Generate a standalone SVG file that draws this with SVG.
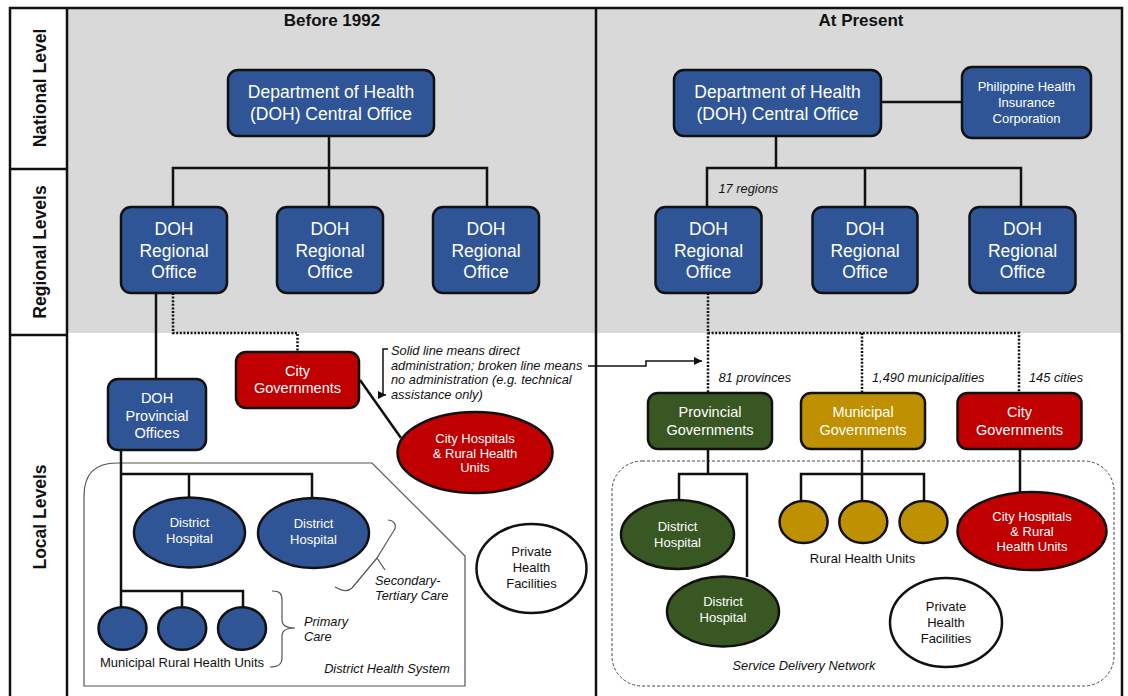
<svg xmlns="http://www.w3.org/2000/svg" width="1128" height="696" viewBox="0 0 1128 696">
<style>
text{font-family:"Liberation Sans",Arial,sans-serif;}
.hdr{font-weight:bold;font-size:17px;fill:#111;text-anchor:middle;}
.lvl{font-weight:bold;font-size:17.5px;fill:#111;text-anchor:middle;}
.w{fill:#fff;text-anchor:middle;}
.big{font-size:17.5px;}
.mid{font-size:14.5px;}
.sm{font-size:13px;}
.k{fill:#111;text-anchor:middle;}
.it{font-style:italic;font-size:12.8px;fill:#111;}
.box{stroke:#111;stroke-width:2.5;}
.blue{fill:#2f5597;}
.red{fill:#c00000;}
.green{fill:#385723;}
.gold{fill:#bf9000;}
.white{fill:#fff;}
.ln{fill:none;stroke:#111;stroke-width:2.5;}
.dot{fill:none;stroke:#111;stroke-width:2.5;stroke-dasharray:2 1.6;}
.thin{fill:none;stroke:#555;stroke-width:1.2;}
</style>
<defs>
<marker id="ah" markerUnits="userSpaceOnUse" markerWidth="10" markerHeight="10" refX="8" refY="4" orient="auto">
<path d="M0,0 L8,4 L0,8 z" fill="#111"/>
</marker>
</defs>
<rect x="0" y="0" width="1128" height="696" fill="#fff"/>
<g id="background">
<rect x="67" y="8" width="1055" height="325" fill="#d9d9d9"/>
<path class="ln" d="M10,700 L10,8 L1122,8 L1122,700 M67,8 L67,700 M596,8 L596,700 M10,169 L67,169 M10,335 L67,335"/>
</g>
<g id="labels">
<text class="hdr" x="332" y="26">Before 1992</text>
<text class="hdr" x="861" y="26">At Present</text>
<text class="lvl" transform="translate(45.5,88) rotate(-90)">National Level</text>
<text class="lvl" transform="translate(45.5,252) rotate(-90)">Regional Levels</text>
<text class="lvl" transform="translate(45.5,517) rotate(-90)">Local Levels</text>
</g>
<g id="regions">
<path class="thin" d="M84,686 L84,496 Q84,463 117,463 L372,463 L465,556 L465,686 Z"/>
<text class="it" x="450" y="673" text-anchor="end">District Health System</text>
<rect x="612" y="461" width="502" height="225" rx="30" fill="none" stroke="#444" stroke-width="1" stroke-dasharray="3 2"/>
<text class="it" x="804" y="670" text-anchor="middle">Service Delivery Network</text>
</g>
<g id="connectors">
<path class="ln" d="M329,136 L329,207 M173,207 L173,168 L487,168 L487,207"/>
<path class="ln" d="M156,293 L156,379"/>
<path class="dot" d="M173,293 L173,333 L297.5,333 L297.5,352"/>
<path class="ln" d="M121,450 L121,607 M121,474 L312,474 L312,498 M189,474 L189,498 M121,591 L243,591 L243,607 M182,591 L182,607"/>
<path class="ln" d="M360,380 L401,438"/>
<path class="ln" d="M776,136 L776,168 M707,207 L707,168 L1021,168 L1021,207 M865,168 L865,207"/>
<path class="ln" d="M881,102 L962,102"/>
<path class="dot" d="M708,293 L708,393 M708,333 L1019,333 L1019,393 M862,333 L862,393"/>
<path class="ln" d="M708,449 L708,474 M679,500 L679,474 L747,474 L747,577"/>
<path class="ln" d="M862,449 L862,501 M801,501 L801,474 L924,474 L924,501"/>
<path class="ln" d="M1020,449 L1020,492"/>
<path fill="none" stroke="#111" stroke-width="1.5" d="M388,349 L383,349 L383,395 L386,395" marker-end="url(#ah)"/>
<path fill="none" stroke="#111" stroke-width="1.5" d="M588,366 L646,366 L646,361 L702,361" marker-end="url(#ah)"/>
<path class="thin" d="M388,520 C396,521 397,527 393,532 L377,558 L385,570 M377,558 L352,588 C348,592 342,591 335,587"/>
<path class="thin" d="M272,591 C280,591 282,594 282,600 L282,620 C282,625 286,628 295,628 C286,628 282,631 282,636 L282,658 C282,664 279,667 270,667"/>
</g>
<g id="n-doh-before">
<rect class="box blue" x="228" y="70" width="206" height="66" rx="10"/>
<text class="w big" x="331" y="98">Department of Health</text>
<text class="w big" x="331" y="120">(DOH) Central Office</text>
</g>
<g id="n-reg-b1">
<rect class="box blue" x="121" y="207" width="106" height="86" rx="10"/>
<text class="w big" x="174" y="235">DOH</text><text class="w big" x="174" y="257">Regional</text><text class="w big" x="174" y="278">Office</text>
</g>
<g id="n-reg-b2">
<rect class="box blue" x="277" y="207" width="106" height="86" rx="10"/>
<text class="w big" x="330" y="235">DOH</text><text class="w big" x="330" y="257">Regional</text><text class="w big" x="330" y="278">Office</text>
</g>
<g id="n-reg-b3">
<rect class="box blue" x="433" y="207" width="106" height="86" rx="10"/>
<text class="w big" x="486" y="235">DOH</text><text class="w big" x="486" y="257">Regional</text><text class="w big" x="486" y="278">Office</text>
</g>
<g id="n-prov-office">
<rect class="box blue" x="108" y="379" width="98" height="71" rx="10"/>
<text class="w mid" x="157" y="403">DOH</text><text class="w mid" x="157" y="421">Provincial</text><text class="w mid" x="157" y="438">Offices</text>
</g>
<g id="n-city-gov-b">
<rect class="box red" x="236" y="352" width="123" height="56" rx="10"/>
<text class="w mid" x="297.5" y="376">City</text><text class="w mid" x="297.5" y="393">Governments</text>
</g>
<g id="n-city-hosp-b">
<ellipse class="box red" cx="475" cy="452.5" rx="77.5" ry="40.5"/>
<text class="w sm" x="475" y="443">City Hospitals</text><text class="w sm" x="475" y="457.5">&amp; Rural Health</text><text class="w sm" x="475" y="472">Units</text>
</g>
<g id="n-dh-b1">
<ellipse class="box blue" cx="189.5" cy="532.5" rx="55.5" ry="35"/>
<text class="w sm" x="189.5" y="527">District</text><text class="w sm" x="189.5" y="543">Hospital</text>
</g>
<g id="n-dh-b2">
<ellipse class="box blue" cx="313.5" cy="533" rx="55.5" ry="35"/>
<text class="w sm" x="313.5" y="527.5">District</text><text class="w sm" x="313.5" y="543.5">Hospital</text>
</g>
<g id="n-rhu-b">
<ellipse class="box blue" cx="122.5" cy="628.5" rx="24" ry="21.3"/>
<ellipse class="box blue" cx="182.2" cy="628.5" rx="24" ry="21.3"/>
<ellipse class="box blue" cx="242" cy="628.5" rx="24" ry="21.3"/>
<text class="k sm" x="182" y="667">Municipal Rural Health Units</text>
</g>
<g id="n-private-b">
<ellipse class="box white" cx="531.5" cy="568.5" rx="55" ry="44.5"/>
<text class="k sm" x="531.5" y="556">Private</text><text class="k sm" x="531.5" y="572">Health</text><text class="k sm" x="531.5" y="588">Facilities</text>
</g>
<g id="notes">
<text class="it" x="391" y="355">Solid line means direct</text>
<text class="it" x="391" y="369.5">administration; broken line means</text>
<text class="it" x="391" y="384">no administration (e.g. technical</text>
<text class="it" x="391" y="398.5">assistance only)</text>
<text class="it" x="304" y="626">Primary</text><text class="it" x="304" y="641">Care</text>
<text class="it" x="375" y="585">Secondary-</text><text class="it" x="375" y="599.5">Tertiary Care</text>
<text class="it" x="718.5" y="193">17 regions</text>
<text class="it" x="718.5" y="382">81 provinces</text>
<text class="it" x="872" y="382">1,490 municipalities</text>
<text class="it" x="1029" y="382">145 cities</text>
</g>
<g id="n-doh-now">
<rect class="box blue" x="674" y="70" width="207" height="66" rx="10"/>
<text class="w big" x="777.5" y="98">Department of Health</text>
<text class="w big" x="777.5" y="120">(DOH) Central Office</text>
</g>
<g id="n-philhealth">
<rect class="box blue" x="962" y="67" width="129" height="71" rx="10"/>
<text class="w sm" x="1026.5" y="91">Philippine Health</text><text class="w sm" x="1026.5" y="107">Insurance</text><text class="w sm" x="1026.5" y="122.5">Corporation</text>
</g>
<g id="n-reg-n1">
<rect class="box blue" x="655.5" y="207" width="106" height="86" rx="10"/>
<text class="w big" x="708.5" y="235">DOH</text><text class="w big" x="708.5" y="257">Regional</text><text class="w big" x="708.5" y="278">Office</text>
</g>
<g id="n-reg-n2">
<rect class="box blue" x="812.5" y="207" width="105" height="86" rx="10"/>
<text class="w big" x="865" y="235">DOH</text><text class="w big" x="865" y="257">Regional</text><text class="w big" x="865" y="278">Office</text>
</g>
<g id="n-reg-n3">
<rect class="box blue" x="969.5" y="207" width="106" height="86" rx="10"/>
<text class="w big" x="1022.5" y="235">DOH</text><text class="w big" x="1022.5" y="257">Regional</text><text class="w big" x="1022.5" y="278">Office</text>
</g>
<g id="n-prov-gov">
<rect class="box green" x="648" y="393" width="124" height="56" rx="10"/>
<text class="w mid" x="710" y="417">Provincial</text><text class="w mid" x="710" y="435">Governments</text>
</g>
<g id="n-mun-gov">
<rect class="box gold" x="801" y="393" width="124" height="56" rx="10"/>
<text class="w mid" x="863" y="417">Municipal</text><text class="w mid" x="863" y="435">Governments</text>
</g>
<g id="n-city-gov-n">
<rect class="box red" x="957.5" y="393" width="124" height="56" rx="10"/>
<text class="w mid" x="1019.5" y="417">City</text><text class="w mid" x="1019.5" y="435">Governments</text>
</g>
<g id="n-dh-n1">
<ellipse class="box green" cx="677.5" cy="534.5" rx="56.5" ry="34.5"/>
<text class="w sm" x="677.5" y="531">District</text><text class="w sm" x="677.5" y="547">Hospital</text>
</g>
<g id="n-dh-n2">
<ellipse class="box green" cx="723" cy="611.5" rx="56" ry="35"/>
<text class="w sm" x="723" y="606">District</text><text class="w sm" x="723" y="622">Hospital</text>
</g>
<g id="n-rhu-n">
<ellipse class="box gold" cx="803.6" cy="522" rx="24" ry="21"/>
<ellipse class="box gold" cx="863.3" cy="522" rx="24" ry="21"/>
<ellipse class="box gold" cx="923.5" cy="522" rx="24" ry="21"/>
<text class="k sm" x="862.5" y="562.5">Rural Health Units</text>
</g>
<g id="n-city-hosp-n">
<ellipse class="box red" cx="1032" cy="531" rx="74.5" ry="39"/>
<text class="w sm" x="1032" y="521">City Hospitals</text><text class="w sm" x="1032" y="536">&amp; Rural</text><text class="w sm" x="1032" y="550.5">Health Units</text>
</g>
<g id="n-private-n">
<ellipse class="box white" cx="946" cy="622.5" rx="56" ry="44.5"/>
<text class="k sm" x="946" y="611">Private</text><text class="k sm" x="946" y="627">Health</text><text class="k sm" x="946" y="643">Facilities</text>
</g>
</svg>
